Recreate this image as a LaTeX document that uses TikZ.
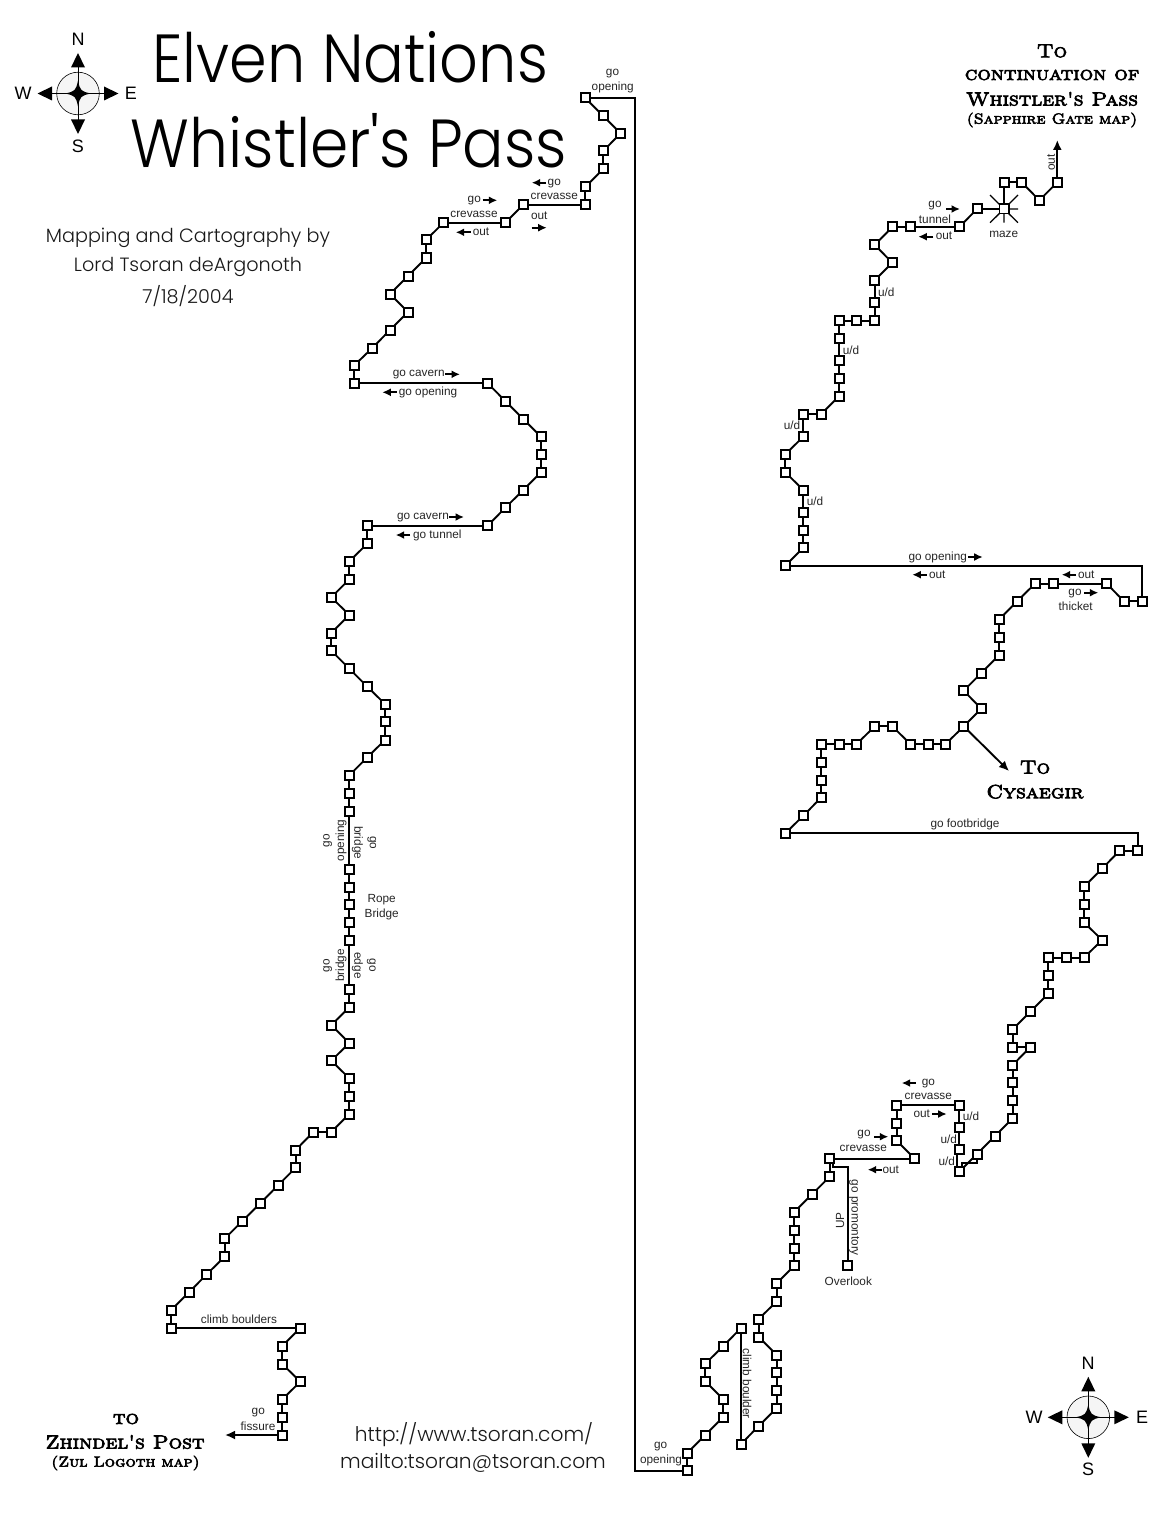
\documentclass[tikz,border=0pt]{standalone}
\usepackage{fontspec}
\usetikzlibrary{arrows.meta}
\setmainfont{Liberation Sans}
\newfontfamily\titlef{Poppins Light}
\newfontfamily\copf[FakeBold=4,FakeStretch=1.12]{Latin Modern Roman Caps}
\tikzset{
  room/.style={draw=black,fill=white,line width=2pt,minimum size=9pt,inner sep=0pt,outer sep=0pt},
  link/.style={draw=black,line width=1.9pt},
  thinlink/.style={draw=black,line width=1.7pt},
  ray/.style={draw=black,line width=1.3pt},
  lab/.style={font=\fontsize{11.8}{13}\selectfont,inner sep=0pt,text=black!85,yshift=-.5pt},
  smallarr/.style={draw=black,line width=1.7pt,-{Latex[length=8.5pt,width=8pt]}},
  bigarr/.style={draw=black,line width=1.9pt,-{Latex[length=10pt,width=9pt]}},
  titletext/.style={font=\titlef\fontsize{68}{70}\selectfont,inner sep=0pt},
  credit/.style={font=\titlef\fontsize{19.2}{22}\selectfont,inner sep=0pt,text=black!90},
  urltext/.style={font=\titlef\fontsize{20.2}{24}\selectfont,inner sep=0pt,text=black!90},
  headA/.style={font=\copf\fontsize{19}{20}\selectfont,inner sep=0pt},
  headB/.style={font=\copf\fontsize{14.5}{16}\selectfont,inner sep=0pt},
  compassletter/.style={font=\fontsize{18}{18}\selectfont,inner sep=0pt},
}
\newcommand\lnk[3]{\foreach \i [evaluate=\i as \j using int(\i+1)] in {#2,...,#3} \draw[link] (#1\i) -- (#1\j);}
\newcommand\rar[3]{\draw[smallarr] (#1,#3) -- (#2,#3);}
\newcommand\lar[3]{\draw[smallarr] (#2,#3) -- (#1,#3);}
\newcommand\compassrose[2]{%
  \begin{scope}[shift={(#1,#2)}]
    \draw[fill=black!4,line width=.6pt] (0,0) circle (21.3);
    \draw[line width=.8pt] (-26.6,0) -- (26.6,0) (0,-26.6) -- (0,26.6);
    \fill (0,-13) .. controls (2,-3) and (3,-2) .. (13,0) .. controls (3,2) and (2,3) .. (0,13)
      .. controls (-2,3) and (-3,2) .. (-13,0) .. controls (-3,-2) and (-2,-3) .. cycle;
    \fill (0,-40.5) -- (7,-26) -- (-7,-26) -- cycle;
    \fill (0,40.5) -- (7,26) -- (-7,26) -- cycle;
    \fill (-40.5,0) -- (-26,7) -- (-26,-7) -- cycle;
    \fill (40.5,0) -- (26,7) -- (26,-7) -- cycle;
  \end{scope}}
\begin{document}
\begin{tikzpicture}[x=1pt,y=-1pt]
\useasboundingbox (0,0) rectangle (1175,1530);
% rooms, first route
\foreach \x/\y [count=\n] in {585/97.7,603.3/116,620.5/133.3,603.3/151,603.3/169,585.3/187,585.3/205,523/205,505.3/222.7,443.5/222.7,426/240,426/258,408/276,390/294,408/312,390/330,372.3/348,354.3/365.3,354.3/383.3,487.7/383.3,505.3/401,523.3/419,541/436.7,541/454.7,541/472.3,523.3/490,505.3/507.7,487.7/525.7,367.3/525.7,367.3/543.7,349.3/561.3,349.3/579.3,331.3/597.3,349.3/615,331.3/633,331.3/650.7,349.3/668.7,367.3/686.7,385/704,385/721.7,385/740,367.3/757.3,349.3/775.3,349.3/793.3,349.3/811,349.3/869,349.3/887,349.3/904.7,349.3/922.7,349.3/940.3,349.3/989.3,349.3/1007.3,331.3/1025,349.3/1043,331.3/1060.7,349.3/1078.3,349.3/1096.3,349.3/1114,331.3/1132,313.3/1132,295.7/1150,295.7/1167.7,278/1185.3,260.3/1203.3,242.3/1221,224.7/1238.7,224.7/1256.7,206.7/1274.3,189/1292.3,171/1310.3,171/1328,300.3/1328,282.3/1346,282.3/1364,300.3/1381.7,282.3/1399.3,282.3/1417.3,282.3/1435}
  \node[room] (a\n) at (\x,\y) {};
% rooms, second route
\foreach \x/\y [count=\n] in {687.3/1470.7,687.3/1453,705.3/1435,723.3/1417,723.3/1399.3,705.3/1381.3,705.3/1363.7,723.3/1346,741/1328,741/1444,758.7/1426,776.7/1408,776.7/1390,776.7/1372.7,776.7/1355,758.7/1337,758.7/1319,776.7/1301.3,776.7/1283.3,794.3/1265.7,794.3/1248,794.3/1230,794.3/1212,812/1194.3,829.7/1176.7,829.7/1158.7,914.7/1158.7,896.7/1140.7,896.7/1123,896.7/1105,959.3/1105,959.3/1127.3,959.3/1149.7,959.3/1171.7,977/1154,995/1136,1012.7/1118.3,1012.7/1100.7,1012.7/1082.7,1012.7/1065,1030.3/1047,1012.7/1047,1012.7/1029.3,1030.3/1011.7,1048.3/993.7,1048.3/975.7,1048.3/957.7,1066.3/957.7,1084/957.7,1102/940,1084/922.3,1084/904.3,1084/886.7,1102/868.7,1119.7/850.7,1137.7/850.7,785.3/833.3,803.3/815.7,821/797.7,821/780,821/762,821/744,839/744,856.7/744,874.7/726.3,892.3/726.3,910.3/744,928/744,945.7/744,963.7/726.3,981.3/708.7,963.7/690.7,981.3/673,999.3/655,999.3/637.3,999.3/619.3,1017/601.3,1035/583.7,1053/583.7,1106.7/583.7,1124/601.3,1142/601.3,785.3/565.7,803.3/547.7,803.3/530,803.3/512.3,803.3/490,785.3/472.3,785.3/454.3,803.3/436.7,803.3/414.3,821/414.3,839/396.3,839/378.3,839/360.7,839/338.7,839/320.7,856.7/320.7,874.7/320.7,874.7/302.7,874.7/280.3,892.3/262.7,874.7/245,892.3/227,910.3/227,959.3/227,977/209,1004/209,1004/182.3,1021.7/182.3,1039.3/200.3,1057.3/182.3}
  \node[room] (b\n) at (\x,\y) {};
\node[room] (ov) at (847.7,1265.7) {};
% free ends
\coordinate (ct) at (634.7,97.7);
\coordinate (cb) at (634.7,1470.7);
\coordinate (zh) at (225,1435);
\coordinate (cy) at (1009,771);
\coordinate (sg) at (1057.3,140);
\coordinate (ovc) at (847.7,1167.3);
\coordinate (udc) at (977,1163.3);
\coordinate (m1) at (990,195);
\coordinate (m2) at (1018,195);
\coordinate (m3) at (990,222.7);
\coordinate (m4) at (1018,222.7);
\coordinate (m5) at (1018,209);
\coordinate (m6) at (1004,222.7);
% connectors
\lnk{a}{1}{77}
\lnk{b}{1}{32}
\lnk{b}{34}{55}
\lnk{b}{57}{81}
\lnk{b}{83}{111}
\draw[link] (a1) -- (ct) -- (cb) -- (b1);
\draw[bigarr] (a78) -- (zh);
\draw[bigarr] (b70) -- (cy);
\draw[bigarr] (b112) -- (sg);
\draw[link] ([xshift=-2pt]b33.south) -- ([xshift=-2pt]b34.north);
\draw[link] ([xshift=2.5pt]b34.north) |- (udc) -- (b35);
\draw[link] ([xshift=3pt]b26.south) |- (ovc) -- (ov);
\draw[thinlink] (b56) |- (b57);
\draw[link] (b82) |- (b83);
\draw[ray] (b108) -- (m1) (b108) -- (m2) (b108) -- (m3) (b108) -- (m4) (b108) -- (m5) (b108) -- (m6);
\node[room,line width=1.2pt] at (b108) {};
% small labels
\node[lab] (t1) at (612.5,73.3) {go};
\node[lab] (t2) at (612.7,87) {opening};
\node[lab] (t3) at (554.3,183) {go};
\node[lab] (t4) at (554.3,196) {crevasse};
\node[lab] (t5) at (539.3,215.7) {out};
\node[lab] (t6) at (474.3,200.3) {go};
\node[lab] (t7) at (474,214.3) {crevasse};
\node[lab] (t8) at (481,231.7) {out};
\node[lab] (t9) at (418.7,374.3) {go cavern};
\node[lab] (t10) at (428,392.3) {go opening};
\node[lab] (t11) at (423,517) {go cavern};
\node[lab] (t12) at (437.3,535) {go tunnel};
\node[lab,rotate=90] (t13) at (327.7,840) {go};
\node[lab,rotate=90] (t14) at (341,840) {opening};
\node[lab,rotate=-90] (t15) at (357.3,842.3) {bridge};
\node[lab,rotate=-90] (t16) at (371.7,842.3) {go};
\node[lab] (t17) at (381.7,899.3) {Rope};
\node[lab] (t18) at (381.7,913.7) {Bridge};
\node[lab,rotate=90] (t19) at (327.7,965) {go};
\node[lab,rotate=90] (t20) at (341,965) {bridge};
\node[lab,rotate=-90] (t21) at (357.3,965) {edge};
\node[lab,rotate=-90] (t22) at (371.3,965) {go};
\node[lab] (t23) at (239,1319) {climb boulders};
\node[lab] (t24) at (258.3,1412.3) {go};
\node[lab] (t25) at (258,1426) {fissure};
\node[lab] (t26) at (935,205) {go};
\node[lab] (t27) at (935,218.7) {tunnel};
\node[lab] (t28) at (944,235.7) {out};
\node[lab] (t29) at (1003.7,233.7) {maze};
\node[lab,rotate=90] (t30) at (1051,162) {out};
\node[lab] (t31) at (886.3,291.7) {u/d};
\node[lab] (t32) at (851,349.7) {u/d};
\node[lab] (t33) at (792,425) {u/d};
\node[lab] (t34) at (815,500.7) {u/d};
\node[lab] (t35) at (937.7,557) {go opening};
\node[lab] (t36) at (937.3,574.7) {out};
\node[lab] (t37) at (1086.3,574.7) {out};
\node[lab] (t38) at (1075,592.7) {go};
\node[lab] (t39) at (1075.7,606) {thicket};
\node[lab] (t40) at (965,824) {go footbridge};
\node[lab] (t41) at (928.3,1082.7) {go};
\node[lab] (t42) at (928.3,1096) {crevasse};
\node[lab] (t43) at (921.7,1113.7) {out};
\node[lab] (t44) at (971,1116) {u/d};
\node[lab] (t45) at (948.7,1138.3) {u/d};
\node[lab] (t46) at (946.7,1160.7) {u/d};
\node[lab] (t47) at (864,1134) {go};
\node[lab] (t48) at (863.3,1147.7) {crevasse};
\node[lab] (t49) at (890.7,1169.7) {out};
\node[lab,rotate=-90] (t50) at (854.3,1217.3) {go promontory};
\node[lab,rotate=90] (t51) at (840,1220) {UP};
\node[lab] (t52) at (848.3,1281) {Overlook};
\node[lab,rotate=-90] (t53) at (747,1383.3) {climb boulder};
\node[lab] (t54) at (660.7,1445.7) {go};
\node[lab] (t55) at (661,1459.7) {opening};
% direction arrows
\lar{531.7}{546}{182.7}
\rar{531.7}{546.7}{227.7}
\rar{482.7}{497.3}{200.3}
\lar{455.7}{470.7}{232.3}
\rar{445}{460}{374.3}
\lar{382.3}{396.7}{392.3}
\rar{449}{464}{517}
\lar{395.7}{410}{535}
\rar{946}{960}{209}
\lar{918.3}{933.3}{236.7}
\rar{968.3}{982.7}{557}
\lar{912.3}{926.7}{574.7}
\lar{1061.7}{1076}{574.7}
\rar{1084}{1098.3}{592.7}
\lar{901.7}{915.7}{1083}
\rar{932.3}{946.7}{1114}
\rar{874.3}{888.3}{1136.7}
\lar{867.7}{881.7}{1169.7}
% titles
\node[titletext] (title1) at (350,57) {\scalebox{0.89}[1]{Elven Nations}};
\node[titletext] (title2) at (349,141) {\scalebox{0.905}[1]{Whistler's Pass}};
\node[credit] (c1) at (188,238) {Mapping and Cartography by};
\node[credit] (c2) at (188,267) {Lord Tsoran deArgonoth};
\node[credit] (c3) at (188,296) {7/18/2004};
\node[urltext] (u1) at (474,1435) {http://www.tsoran.com/};
\node[urltext] (u2) at (473,1463) {mailto:tsoran@tsoran.com};
% destination headings
\node[headA] (h1) at (1052,51) {To};
\node[headA] (h2) at (1052,75) {continuation of};
\node[headA] (h3) at (1052,99) {Whistler's Pass};
\node[headB] (h4) at (1052,120) {(Sapphire Gate map)};
\node[headA] (h5) at (1035,767.3) {To};
\node[headA] (h6) at (1035,791.7) {Cysaegir};
\node[headA] (h7) at (126,1419) {to};
\node[headA] (h8) at (125,1442) {Zhindel's Post};
\node[headB] (h9) at (125.5,1463) {(Zul Logoth map)};
% compasses
\compassrose{78}{93.5}
\node[compassletter] (n1) at (78,39) {N};
\node[compassletter] (s1) at (78,146) {S};
\node[compassletter] (w1) at (23,93) {W};
\node[compassletter] (e1) at (131,93) {E};
\compassrose{1088.3}{1417.3}
\node[compassletter] (n2) at (1088,1363) {N};
\node[compassletter] (s2) at (1088,1469) {S};
\node[compassletter] (w2) at (1034,1417) {W};
\node[compassletter] (e2) at (1142,1417) {E};
\end{tikzpicture}
\end{document}
